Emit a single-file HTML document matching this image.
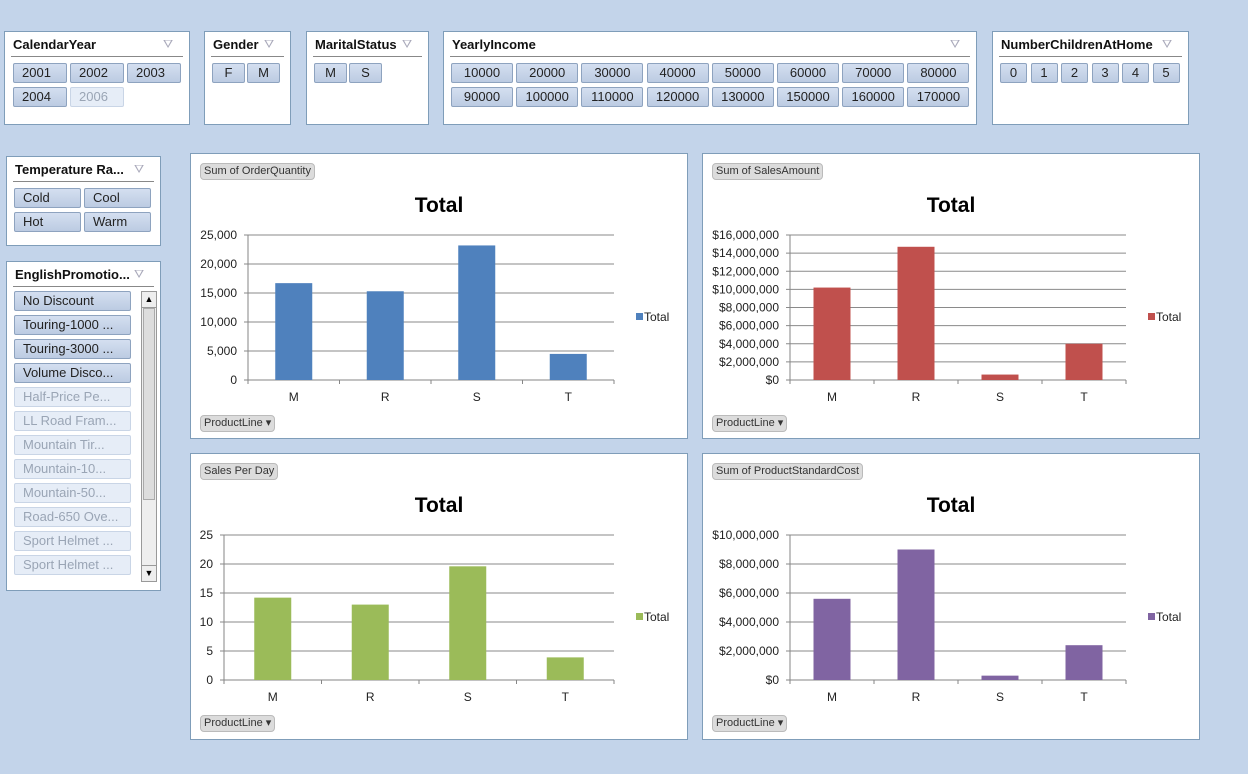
<!DOCTYPE html>
<html><head><meta charset="utf-8"><style>
body{margin:0;width:1248px;height:774px;background:#c3d4ea;font-family:"Liberation Sans",sans-serif;position:relative;overflow:hidden}
.box{position:absolute;background:#fff;border:1px solid #7f9db9;box-sizing:border-box}
.sl .t{position:absolute;left:8px;top:5px;font-weight:bold;font-size:13px;color:#111}
.sl .ic{position:absolute;top:5px;font-size:12px;color:#aab}
.sl .ln{position:absolute;left:6px;right:6px;top:24px;border-top:1px solid #888}
.b{position:absolute;height:20px;box-sizing:border-box;border:1px solid #8ea3bf;border-radius:2px;background:linear-gradient(#d4dff0,#bccbe2);font-size:13px;color:#222;line-height:18px;text-align:center}
.b.l{text-align:left;padding-left:8px}
.b.d{background:#e6edf7;border-color:#c9d5e6;color:#9aa5b5}
.tag{position:absolute;background:#dcdcdc;border:1px solid #bbb;border-radius:4px;font-size:11px;color:#333;padding:1px 3px;line-height:13px}
svg text{font-family:"Liberation Sans",sans-serif}
</style></head><body>
<div id="slicers"></div>
<div class="box" style="left:190px;top:153px;width:498px;height:286px"><svg id="c1" width="496" height="284"></svg></div>
<div class="box" style="left:702px;top:153px;width:498px;height:286px"><svg id="c2" width="496" height="284"></svg></div>
<div class="box" style="left:190px;top:453px;width:498px;height:287px"><svg id="c3" width="496" height="285"></svg></div>
<div class="box" style="left:702px;top:453px;width:498px;height:287px"><svg id="c4" width="496" height="285"></svg></div>
<script>
const categories=["M","R","S","T"];
const orderQty=[16700,15300,23200,4500];
const qtyTicks=["0","5,000","10,000","15,000","20,000","25,000"];
const salesAmt=[10200000,14700000,600000,4000000];
const salesTicks=["$0","$2,000,000","$4,000,000","$6,000,000","$8,000,000","$10,000,000","$12,000,000","$14,000,000","$16,000,000"];
const perDay=[14.2,13.0,19.6,3.9];
const dayTicks=["0","5","10","15","20","25"];
const stdCost=[5600000,9000000,300000,2400000];
const costTicks=["$0","$2,000,000","$4,000,000","$6,000,000","$8,000,000","$10,000,000"];

const NS="http://www.w3.org/2000/svg";
function mk(p,tag,a,txt){const e=document.createElementNS(NS,tag);for(const k in a)e.setAttribute(k,a[k]);if(txt!=null)e.textContent=txt;p.appendChild(e);return e;}
function chart(id,vals,ticks,maxV,x0,x1,color,title){
  const s=document.getElementById(id);const top=81,bot=226;
  const y=v=>bot-(v/maxV)*(bot-top);
  const bw=(x1-x0)/categories.length;
  const ttl=mk(s,'text',{x:248,y:58,'text-anchor':'middle','font-size':21,'font-weight':'bold',fill:'#000'},'Total');
  
  
  ticks.forEach((t,i)=>{const v=maxV*i/(ticks.length-1);const yy=y(v);
    mk(s,'line',{x1:x0-4,x2:x1,y1:yy,y2:yy,stroke:i==0?'#868686':'#8a8a8a','stroke-width':1});
    const lb=mk(s,'text',{x:x0-11,y:yy+4,'text-anchor':'end','font-size':12,fill:'#222'},t);
    
    
  });
  mk(s,'line',{x1:x0,x2:x0,y1:top,y2:bot+4,stroke:'#868686'});
  categories.forEach((c,i)=>{
    const cx=x0+bw*(i+0.5);
    mk(s,'line',{x1:x0+bw*(i+1),x2:x0+bw*(i+1),y1:bot,y2:bot+4,stroke:'#868686'});
    const r=mk(s,'rect',{x:cx-18.5,y:y(vals[i]),width:37,height:bot-y(vals[i]),fill:color});
    
    
    const lb=mk(s,'text',{x:cx,y:bot+21,'text-anchor':'middle','font-size':12,fill:'#222'},c);
    
    
  });
  const lg=mk(s,'g',{});
  
  
  mk(lg,'rect',{x:445,y:159,width:7,height:7,fill:color});
  mk(lg,'text',{x:453,y:167,'font-size':12,fill:'#222'},'Total');
}
chart('c1',orderQty,qtyTicks,25000,57,423,'#4f81bd');
chart('c2',salesAmt,salesTicks,16000000,87,423,'#c0504d');
chart('c3',perDay,dayTicks,25,33,423,'#9bbb59');
chart('c4',stdCost,costTicks,10000000,87,423,'#8064a2');
function tag(parent,l,t,txt,name,dd){const d=document.createElement('div');d.className='tag';d.style.left=l+'px';d.style.top=t+'px';d.textContent=txt+(dd?'  \u25BE':'');
  
  
  parent.appendChild(d);}
const boxes=document.querySelectorAll('.box');
const fields=['Sum of OrderQuantity','Sum of SalesAmount','Sales Per Day','Sum of ProductStandardCost'];
boxes.forEach((b,i)=>{tag(b,9,9,fields[i],'field-button');tag(b,9,261,'ProductLine','productline-filter-button',true);});

const S=document.getElementById('slicers');
function slicer(name,title,l,t,w,h,items){
  const d=document.createElement('div');d.className='box sl';
  
  
  d.style.cssText=`left:${l}px;top:${t}px;width:${w}px;height:${h}px`;
  d.innerHTML=`<div class="t">${title}</div><div class="ic" style="left:${w-28}px">&#x26DB;</div><div class="ln"></div>`;
  items.forEach(it=>{const b=document.createElement('div');b.className='b'+(it.d?' d':'')+(it.l?' l':'');
    b.style.cssText=`left:${it.x}px;top:${it.y}px;width:${it.w}px`;b.textContent=it.t;
    
    
    d.appendChild(b);});
  S.appendChild(d);
}
const yrs=['2001','2002','2003','2004','2006'];
slicer('calendar-year-slicer','CalendarYear',4,31,186,94,yrs.map((t,i)=>({t,x:8+57*(i%3),y:31+24*Math.floor(i/3),w:54,d:t=='2006',l:1})));
slicer('gender-slicer','Gender',204,31,87,94,['F','M'].map((t,i)=>({t,x:7+35*i,y:31,w:33})));
slicer('marital-status-slicer','MaritalStatus',306,31,123,94,['M','S'].map((t,i)=>({t,x:7+35*i,y:31,w:33})));
const inc=['10000','20000','30000','40000','50000','60000','70000','80000','90000','100000','110000','120000','130000','150000','160000','170000'];
slicer('yearly-income-slicer','YearlyIncome',443,31,534,94,inc.map((t,i)=>({t,x:7+65.2*(i%8),y:31+24*Math.floor(i/8),w:62})));
slicer('children-slicer','NumberChildrenAtHome',992,31,197,94,['0','1','2','3','4','5'].map((t,i)=>({t,x:7+30.5*i,y:31,w:27})));
slicer('temperature-slicer','Temperature Ra...',6,156,155,90,['Cold','Cool','Hot','Warm'].map((t,i)=>({t,x:7+70*(i%2),y:31+24*Math.floor(i/2),w:67,l:1})));
const promos=['No Discount','Touring-1000 ...','Touring-3000 ...','Volume Disco...','Half-Price Pe...','LL Road Fram...','Mountain Tir...','Mountain-10...','Mountain-50...','Road-650 Ove...','Sport Helmet ...','Sport Helmet ...'];
slicer('promotion-slicer','EnglishPromotio...',6,261,155,330,promos.map((t,i)=>({t,x:7,y:29+24*i,w:117,d:i>3,l:1})));
const sb=document.createElement('div');


sb.style.cssText='position:absolute;left:134px;top:29px;width:16px;height:291px;background:#eee;border:1px solid #999;box-sizing:border-box';
sb.innerHTML='<div style="position:absolute;top:0;left:0;right:0;height:15px;border-bottom:1px solid #999;font-size:9px;text-align:center;line-height:15px">&#9650;</div><div style="position:absolute;top:16px;left:1px;right:1px;height:190px;background:#ddd;border:1px solid #aaa"></div><div style="position:absolute;bottom:0;left:0;right:0;height:15px;border-top:1px solid #999;font-size:9px;text-align:center;line-height:15px">&#9660;</div>';
S.lastChild.appendChild(sb);
</script>
</body></html>
